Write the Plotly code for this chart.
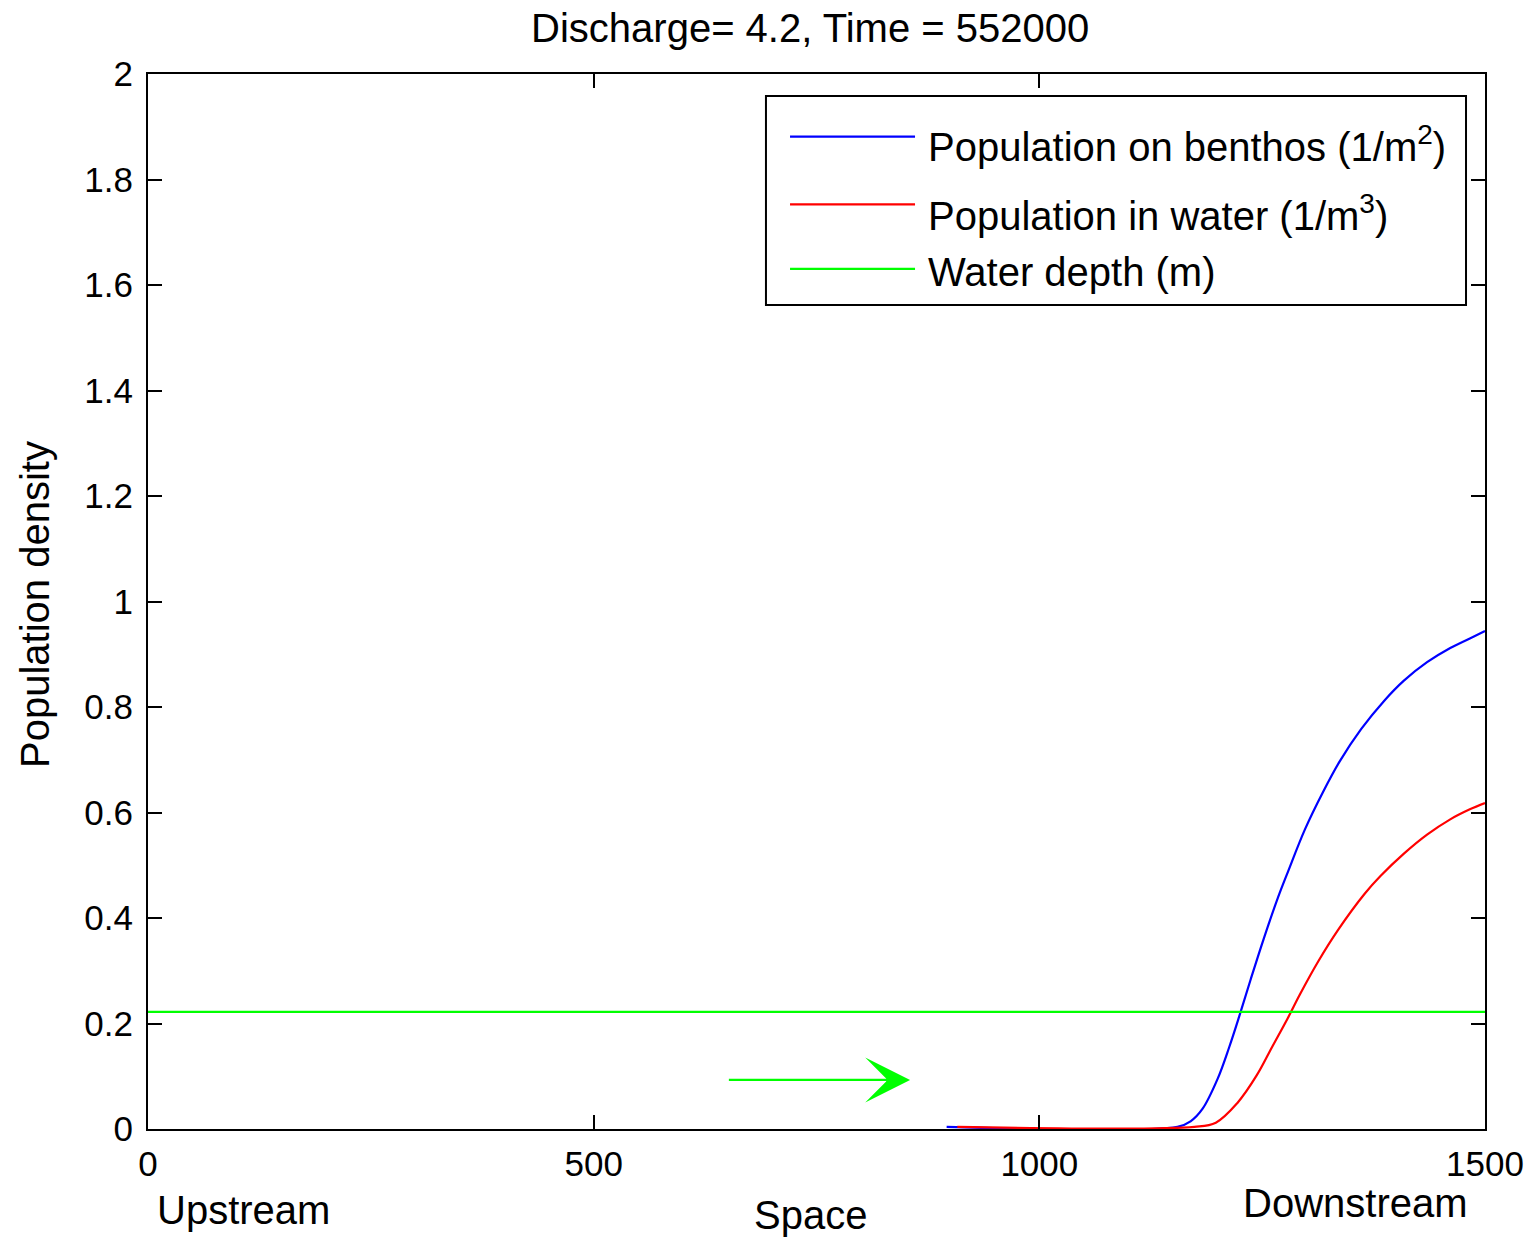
import plotly.graph_objects as go

# Spatial profiles along the reach
space_benthos = [896, 1155, 1170, 1183, 1200, 1213, 1224, 1237, 1252, 1268, 1279, 1298,
                 1318, 1337, 1361, 1387, 1409, 1435, 1461, 1483, 1500]
pop_benthos = [0.004, 0.004, 0.015, 0.038, 0.095, 0.155, 0.212, 0.283, 0.362, 0.440, 0.488, 0.568,
               0.638, 0.697, 0.758, 0.812, 0.850, 0.885, 0.912, 0.930, 0.944]

space_water = [908, 1174, 1198, 1222, 1244, 1261, 1279, 1292, 1313, 1335, 1365,
               1383, 1409, 1435, 1461, 1483, 1500]
pop_water = [0.004, 0.004, 0.012, 0.049, 0.102, 0.155, 0.211, 0.254, 0.318, 0.377, 0.446,
             0.480, 0.522, 0.558, 0.587, 0.606, 0.618]

space_depth = [0, 1500]
water_depth = [0.222, 0.222]

# Flow direction arrow (start, end) and its height
arrow_x = [650, 855]
arrow_y = 0.093

discharge = 4.2
time_value = 552000

x_ticks = [0, 500, 1000, 1500]
y_ticks = [0, 0.2, 0.4, 0.6, 0.8, 1, 1.2, 1.4, 1.6, 1.8, 2]
y_tick_text = ["0", "0.2", "0.4", "0.6", "0.8", "1", "1.2", "1.4", "1.6", "1.8", "2"]

series_names = [
    "Population on benthos (1/m<sup>2</sup>)",
    "Population in water (1/m<sup>3</sup>)",
    "Water depth (m)",
]
series_colors = ["#0000FF", "#FF0000", "#00FF00"]

FONT = "Liberation Sans, Arial, sans-serif"
TEXT_SIZE = 40
TICK_SIZE = 35

fig = go.Figure()
fig.add_trace(go.Scatter(x=space_benthos, y=pop_benthos, mode="lines",
                         line=dict(color=series_colors[0], width=2.2, shape="spline", smoothing=1.0),
                         name=series_names[0], showlegend=False))
fig.add_trace(go.Scatter(x=space_water, y=pop_water, mode="lines",
                         line=dict(color=series_colors[1], width=2.2, shape="spline", smoothing=1.0),
                         name=series_names[1], showlegend=False))
fig.add_trace(go.Scatter(x=space_depth, y=water_depth, mode="lines",
                         line=dict(color=series_colors[2], width=2.2),
                         name=series_names[2], showlegend=False))

# Flow direction arrow
fig.add_annotation(x=arrow_x[1], y=arrow_y, ax=arrow_x[0], ay=arrow_y,
                   xref="x", yref="y", axref="x", ayref="y", text="",
                   showarrow=True, arrowhead=3, arrowsize=3.4, arrowwidth=2.2,
                   arrowcolor="#00FF00")

# Legend box drawn in paper coordinates
lx0, lx1, ly0, ly1 = 0.4622, 0.9858, 0.781, 0.9791
fig.add_shape(type="rect", xref="paper", yref="paper", x0=lx0, x1=lx1, y0=ly0, y1=ly1,
              line=dict(color="black", width=2), fillcolor="white", layer="above")
row_y = [0.9406, 0.8765, 0.8152]
text_y = [0.934, 0.868, 0.812]
for name, color, ry, ty in zip(series_names, series_colors, row_y, text_y):
    fig.add_shape(type="line", xref="paper", yref="paper", x0=0.4802, x1=0.5737,
                  y0=ry, y1=ry, line=dict(color=color, width=2.2), layer="above")
    fig.add_annotation(xref="paper", yref="paper", x=0.5819, y=ty, text=name,
                       showarrow=False, xanchor="left", yanchor="middle",
                       font=dict(family=FONT, size=TEXT_SIZE, color="black"))

# Axis annotations
fig.add_annotation(xref="paper", yref="paper", x=0.0052, y=-0.0768, text="Upstream",
                   showarrow=False, xanchor="left", yanchor="middle",
                   font=dict(family=FONT, size=TEXT_SIZE, color="black"))
fig.add_annotation(xref="paper", yref="paper", x=0.9888, y=-0.0701, text="Downstream",
                   showarrow=False, xanchor="right", yanchor="middle",
                   font=dict(family=FONT, size=TEXT_SIZE, color="black"))
fig.add_annotation(xref="paper", yref="paper", x=0.4958, y=-0.0815, text="Space",
                   showarrow=False, xanchor="center", yanchor="middle",
                   font=dict(family=FONT, size=TEXT_SIZE, color="black"))
fig.add_annotation(xref="paper", yref="paper", x=-0.0845, y=0.4967, text="Population density",
                   showarrow=False, xanchor="center", yanchor="middle", textangle=-90,
                   font=dict(family=FONT, size=TEXT_SIZE, color="black"))

fig.update_layout(
    width=1530, height=1238,
    margin=dict(l=148, r=45, t=74, b=109, autoexpand=False),
    paper_bgcolor="white", plot_bgcolor="white",
    title=dict(text=f"Discharge= {discharge}, Time = {time_value}",
               x=0.5295, xanchor="center", y=0.977, yanchor="middle",
               font=dict(family=FONT, size=TEXT_SIZE, color="black")),
    showlegend=False,
)
fig.update_xaxes(range=[0, 1500], tickvals=x_ticks, ticktext=[str(v) for v in x_ticks],
                 showgrid=False, zeroline=False, showline=True, linecolor="black", linewidth=2,
                 mirror="ticks", ticks="inside", ticklen=14, tickwidth=2, tickcolor="black",
                 ticklabelstandoff=3, automargin=False,
                 tickfont=dict(family=FONT, size=TICK_SIZE, color="black"))
fig.update_yaxes(range=[0, 2], tickvals=y_ticks, ticktext=y_tick_text,
                 showgrid=False, zeroline=False, showline=True, linecolor="black", linewidth=2,
                 mirror="ticks", ticks="inside", ticklen=14, tickwidth=2, tickcolor="black",
                 ticklabelstandoff=6, automargin=False,
                 tickfont=dict(family=FONT, size=TICK_SIZE, color="black"))

fig.write_html("out.html")
